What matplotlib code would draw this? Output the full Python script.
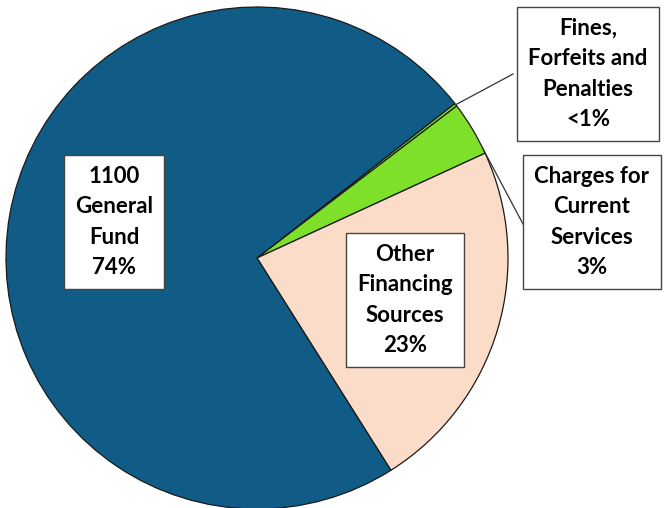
import matplotlib.pyplot as plt
import numpy as np

W, H = 665, 508

labels = ["Fines,\nForfeits and\nPenalties\n<1%",
          "Charges for\nCurrent\nServices\n3%",
          "Other\nFinancing\nSources\n23%",
          "1100\nGeneral\nFund\n74%"]
shares = [0.2, 3.5, 22.9, 73.4]
colors = ["#7fe02a", "#7fe02a", "#fbdcc9", "#105c86"]

fig = plt.figure(figsize=(W / 100, H / 100), dpi=100)
ax = fig.add_axes([0, 0, 1, 1])

cx, cy, r = 257, H - 258, 251
start = 38.0
wedges, _ = ax.pie(shares, colors=colors, startangle=start, counterclock=False,
                   center=(cx, cy), radius=r, frame=True,
                   wedgeprops=dict(edgecolor="#1a1a1a", linewidth=0.9))
ax.set_xlim(0, W)
ax.set_ylim(0, H)
ax.set_aspect("equal")
ax.axis("off")

font = dict(family=["Lato", "DejaVu Sans"], fontweight="bold", fontsize=16,
            color="black", ha="center", va="center", linespacing=1.55)
box = dict(boxstyle="square,pad=0.5", facecolor="white", edgecolor="#444444",
           linewidth=1.0)

# label box centres (pixel coords from top-left)
positions = [(588, 74), (592, 222), (405, 300), (114, 222)]
for lab, (x, y) in zip(labels, positions):
    ax.text(x, H - y, lab, bbox=box, **font)

# leader lines from the small slices
def edge_point(w, frac):
    ang = np.deg2rad(w.theta1 + frac * (w.theta2 - w.theta1))
    return cx + r * np.cos(ang), cy + r * np.sin(ang)

x0, y0 = edge_point(wedges[0], 0.5)
ax.plot([x0, 513], [y0, H - 74], color="#333333", lw=0.9)
x1, y1 = edge_point(wedges[1], 0.1)
ax.plot([x1, 523], [y1, H - 224], color="#333333", lw=0.9)

fig.savefig("out.png", dpi=100, facecolor="white")
